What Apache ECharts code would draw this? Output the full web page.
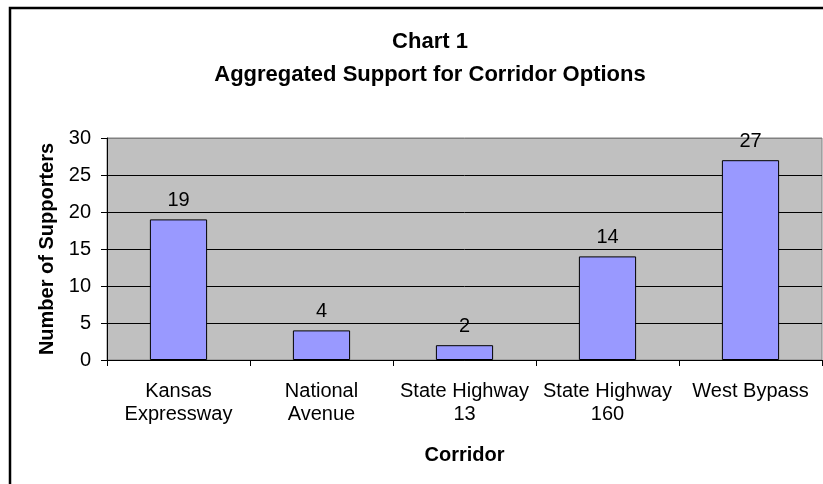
<!DOCTYPE html>
<html>
<head>
<meta charset="utf-8">
<script src="https://cdn.jsdelivr.net/npm/echarts@6/dist/echarts.min.js"></script>
<style>
  html, body { margin: 0; padding: 0; background: #fff; }
  #chart { width: 823px; height: 484px; }
</style>
</head>
<body>
<div id="chart"></div>
<script>
// corridor options and number of supporters
const corridors = ['Kansas\nExpressway', 'National\nAvenue', 'State Highway\n13', 'State Highway\n160', 'West Bypass'];
const supporters = [19, 4, 2, 14, 27];
const yTicks = [0, 5, 10, 15, 20, 25, 30];

const font = 'Liberation Sans, Arial, sans-serif';
const chart = echarts.init(document.getElementById('chart'));

chart.setOption({
  animation: false,
  textStyle: { fontFamily: font, color: '#000' },
  // outer chart frame (runs off the right/bottom edge like the original)
  graphic: [{
    type: 'rect',
    shape: { x: 10, y: 8, width: 900, height: 600 },
    style: { fill: null, stroke: '#000', lineWidth: 2.5 },
    silent: true
  }],
  title: {
    text: 'Chart 1\nAggregated Support for Corridor Options',
    left: 425,
    textAlign: 'center',
    top: 20,
    textStyle: {
      fontFamily: font,
      fontSize: 22,
      fontWeight: 'bold',
      color: '#000',
      lineHeight: 33
    }
  },
  grid: {
    left: 107,
    right: 1,
    top: 138,
    bottom: 124,
    show: true,
    backgroundColor: '#C0C0C0',
    borderColor: '#808080',
    borderWidth: 1
  },
  xAxis: {
    type: 'category',
    data: corridors,
    name: 'Corridor',
    nameLocation: 'middle',
    nameGap: 85,
    nameTextStyle: { fontFamily: font, fontSize: 20, fontWeight: 'bold', color: '#000' },
    axisLine: { show: true, lineStyle: { color: '#000', width: 1 } },
    axisTick: { show: true, alignWithLabel: false, length: 6, lineStyle: { color: '#000' } },
    axisLabel: {
      interval: 0,
      margin: 20,
      fontFamily: font,
      fontSize: 20,
      lineHeight: 23,
      color: '#000'
    },
    splitLine: { show: false }
  },
  yAxis: {
    type: 'value',
    min: yTicks[0],
    max: yTicks[yTicks.length - 1],
    interval: 5,
    name: 'Number of Supporters',
    nameLocation: 'middle',
    nameGap: 50,
    nameTextStyle: { fontFamily: font, fontSize: 20, fontWeight: 'bold', color: '#000' },
    axisLine: { show: true, lineStyle: { color: '#000', width: 1 } },
    axisTick: { show: true, length: 6, lineStyle: { color: '#000' } },
    axisLabel: {
      margin: 16,
      fontFamily: font,
      fontSize: 20,
      color: '#000'
    },
    splitLine: {
      show: true,
      lineStyle: { color: ['#000', '#000', '#000', '#000', '#000', '#000', '#808080'], width: 1 }
    }
  },
  series: [{
    type: 'bar',
    data: supporters,
    barWidth: '40%',
    itemStyle: { color: '#9999FF', borderColor: '#000', borderWidth: 1 },
    label: {
      show: true,
      position: 'top',
      distance: 9,
      fontFamily: font,
      fontSize: 20,
      color: '#000'
    }
  }]
});
</script>
</body>
</html>
